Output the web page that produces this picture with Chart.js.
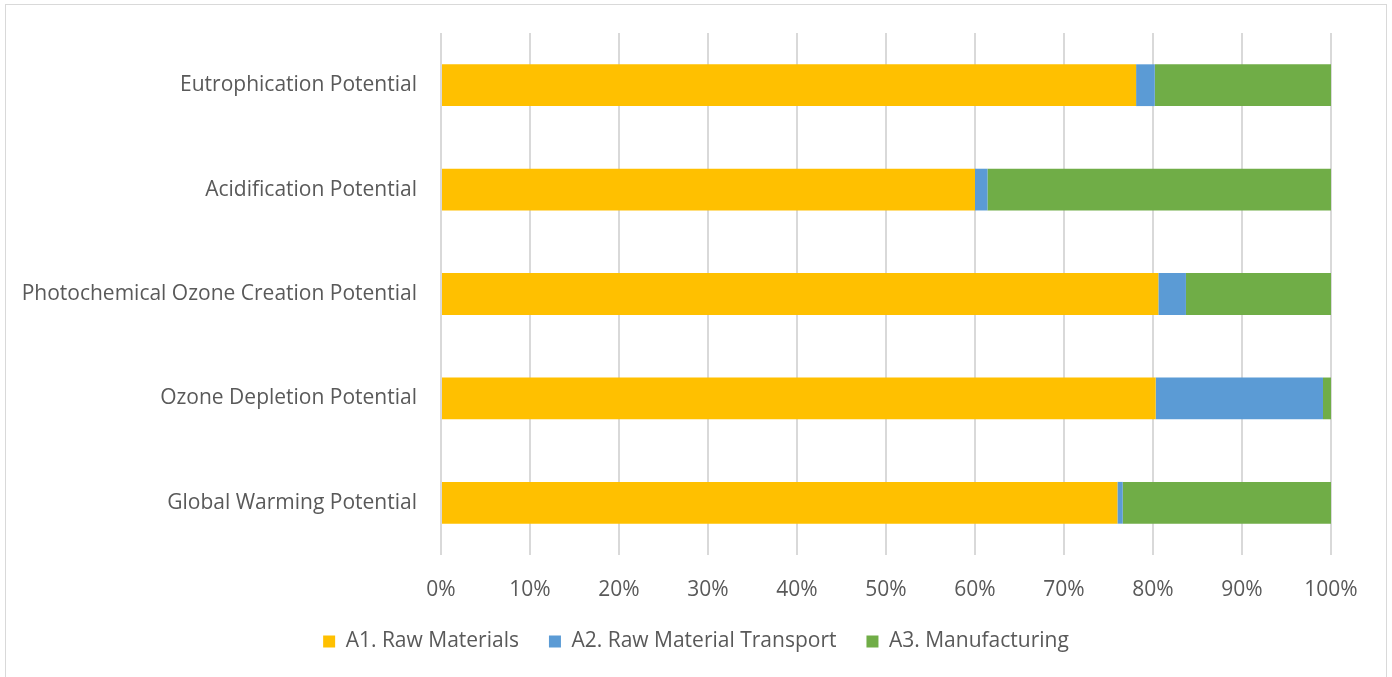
<!DOCTYPE html>
<html>
<head>
<meta charset="utf-8">
<script src="https://cdn.jsdelivr.net/npm/chart.js@4"></script>
<style>
  html, body { margin: 0; padding: 0; background: #fff; }
  #wrap { position: relative; width: 1392px; height: 677px; }
  #frame { position: absolute; left: 5px; top: 4px; width: 1382px; height: 680px; border: 1px solid #d9d9d9; box-sizing: border-box; }
  canvas { position: absolute; left: 0; top: 0; }
</style>
</head>
<body>
<div id="wrap">
  <div id="frame"></div>
  <canvas id="impactChart" width="1392" height="677"></canvas>
</div>
<script>
// impact categories, top to bottom as shown
const categories = [
  "Eutrophication Potential",
  "Acidification Potential",
  "Photochemical Ozone Creation Potential",
  "Ozone Depletion Potential",
  "Global Warming Potential"
];

// share of each life-cycle stage (%)
const rawMaterials = [78.1, 60.0, 80.6, 80.3, 76.0];
const transport = [2.1, 1.4, 3.1, 18.8, 0.6];
const manufacturing = [19.8, 38.6, 16.3, 0.9, 23.4];

const tickLabels = ["0%", "10%", "20%", "30%", "40%", "50%", "60%", "70%", "80%", "90%", "100%"];

const textColor = "#595959";
const fontFamily = "'Open Sans', 'Noto Sans', sans-serif";
const fontSize = 21;

const ctx = document.getElementById("impactChart");
new Chart(ctx, {
  type: "bar",
  data: {
    labels: categories,
    datasets: [
      { label: "A1. Raw Materials", data: rawMaterials, backgroundColor: "#FFC000" },
      { label: "A2. Raw Material Transport", data: transport, backgroundColor: "#5B9BD5" },
      { label: "A3. Manufacturing", data: manufacturing, backgroundColor: "#70AD47" }
    ]
  },
  options: {
    indexAxis: "y",
    responsive: false,
    animation: false,
    layout: { padding: { top: 33, right: 0, bottom: 15, left: 0 } },
    datasets: { bar: { barPercentage: 0.4, categoryPercentage: 1.0 } },
    scales: {
      x: {
        stacked: true,
        min: 0,
        max: 100,
        grid: { color: "#d9d9d9", lineWidth: 2, drawTicks: false },
        border: { display: false },
        ticks: {
          stepSize: 10,
          padding: 22,
          color: textColor,
          font: { family: fontFamily, size: fontSize },
          callback: (v) => tickLabels[Math.round(v / 10)]
        },
        afterFit: (scale) => { scale.height = 46; }
      },
      y: {
        stacked: true,
        grid: { display: false },
        border: { display: false },
        ticks: {
          padding: 16,
          color: textColor,
          font: { family: fontFamily, size: fontSize }
        },
        afterFit: (scale) => { scale.width = 441; }
      },
      // empty right margin so the legend stays centred on the whole frame
      yRight: {
        type: "category",
        position: "right",
        grid: { display: false },
        border: { display: false },
        ticks: { display: false },
        afterFit: (scale) => { scale.width = 61; }
      }
    },
    plugins: {
      legend: {
        position: "bottom",
        labels: {
          boxWidth: 12,
          boxHeight: 12,
          padding: 30,
          color: textColor,
          font: { family: fontFamily, size: fontSize }
        }
      },
      tooltip: { enabled: false }
    }
  }
});
</script>
</body>
</html>
